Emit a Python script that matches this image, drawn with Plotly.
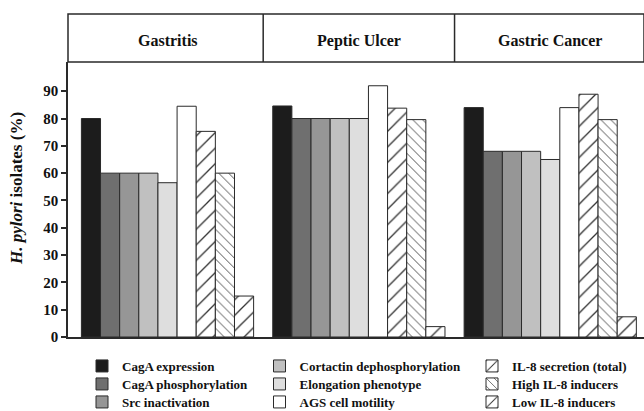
import plotly.graph_objects as go

categories = ["Gastritis", "Peptic Ulcer", "Gastric Cancer"]

series_names = [
    "CagA expression", "CagA phosphorylation", "Src inactivation",
    "Cortactin dephosphorylation", "Elongation phenotype", "AGS cell motility",
    "IL-8 secretion (total)", "High IL-8 inducers", "Low IL-8 inducers",
]
cagA_expression = [80, 84.6, 84.0]
cagA_phosphorylation = [60, 80, 68]
src_inactivation = [60, 80, 68]
cortactin_dephos = [60, 80, 68]
elongation_phenotype = [56.5, 80, 65]
ags_cell_motility = [84.5, 92, 84]
il8_total = [75.3, 83.8, 88.9]
il8_high = [60, 79.6, 79.6]
il8_low = [15, 3.8, 7.4]

y_ticks = [0, 10, 20, 30, 40, 50, 60, 70, 80, 90]

values = [cagA_expression, cagA_phosphorylation, src_inactivation, cortactin_dephos,
          elongation_phenotype, ags_cell_motility, il8_total, il8_high, il8_low]
fills = ["#1c1c1c", "#6f6f6f", "#969696", "#c0c0c0", "#dedede", "#ffffff",
         "#ffffff", "#ffffff", "#ffffff"]
patterns = ["", "", "", "", "", "", "/", "\\", "/"]
psizes = [8, 8, 8, 8, 8, 8, 11, 7, 11]

FONT = "Liberation Serif, Times New Roman, serif"
LINE = "#2a2a2a"

W, H = 644, 411
ml, mr, mt, mb = 68, 0, 62, 74
pw = W - ml - mr
ph = H - mt - mb
y0px = H - mb
head_h = 48
top = 1 + head_h / ph

# legend grid: column left pixel positions and row centre pixel positions
col_px = [82, 259.5, 472]
row_px = [366, 384, 402]

legfont = dict(family=FONT, size=13, color="#111", weight="bold")
legend_layout = {}
fig = go.Figure()
for i, (name, vals, col, pat, ps) in enumerate(zip(series_names, values, fills, patterns, psizes)):
    marker = dict(color=col, line=dict(color=LINE, width=1))
    if pat:
        marker["pattern"] = dict(shape=pat, size=ps, solidity=0.12,
                                 fgcolor="#333333", bgcolor="#ffffff", fillmode="replace")
    key = "legend" if i == 0 else "legend%d" % (i + 1)
    c, r = divmod(i, 3)
    legend_layout[key] = dict(x=(col_px[c] - ml) / pw, y=-(row_px[r] - y0px) / ph,
                              xanchor="left", yanchor="middle", orientation="v",
                              font=legfont, bgcolor="rgba(0,0,0,0)", borderwidth=0)
    fig.add_trace(go.Bar(x=categories, y=vals, name=name, marker=marker, legend=key))

shapes = [
    dict(type="rect", xref="paper", yref="paper", x0=0, x1=1.0, y0=1, y1=top,
         line=dict(color=LINE, width=1.5)),
    dict(type="line", xref="x", yref="paper", x0=0.5, x1=0.5, y0=1, y1=top,
         line=dict(color=LINE, width=1.5)),
    dict(type="line", xref="x", yref="paper", x0=1.5, x1=1.5, y0=1, y1=top,
         line=dict(color=LINE, width=1.5)),
]
annotations = [
    dict(x=c, y=1 + 21 / ph, xref="x", yref="paper", text="<b>%s</b>" % c,
         xanchor="center", yanchor="middle",
         showarrow=False, font=dict(family=FONT, size=16, color="#111"))
    for c in categories
]
annotations.append(dict(x=(16 - ml) / pw, y=(y0px - 189) / ph, xref="paper", yref="paper",
                        xanchor="center", yanchor="middle",
                        text="<b><i>H. pylori</i> isolates (%)</b>", textangle=-90,
                        showarrow=False, font=dict(family=FONT, size=17, color="#111")))

fig.update_layout(
    width=W, height=H,
    margin=dict(l=ml, r=mr, t=mt, b=mb, autoexpand=False),
    paper_bgcolor="white", plot_bgcolor="white",
    barmode="group", bargap=0.1, bargroupgap=0,
    showlegend=True,
    shapes=shapes,
    annotations=annotations,
    xaxis=dict(type="category", range=[-0.52, 2.49], showticklabels=False, ticks="",
               showline=True, linecolor=LINE, linewidth=1.5, showgrid=False, zeroline=False,
               fixedrange=True),
    yaxis=dict(range=[0, 100.7], tickvals=y_ticks, ticks="outside", ticklen=5, tickwidth=1.5,
               tickcolor=LINE, showline=True, linecolor=LINE, linewidth=1.5,
               showgrid=False, zeroline=False,
               tickfont=dict(family=FONT, size=15, color="#111", weight="bold"),
               fixedrange=True),
    **legend_layout,
)

fig.write_html("out.html", config={"displayModeBar": False},
               post_script="document.body.style.margin='0';document.body.style.overflow='hidden';")
